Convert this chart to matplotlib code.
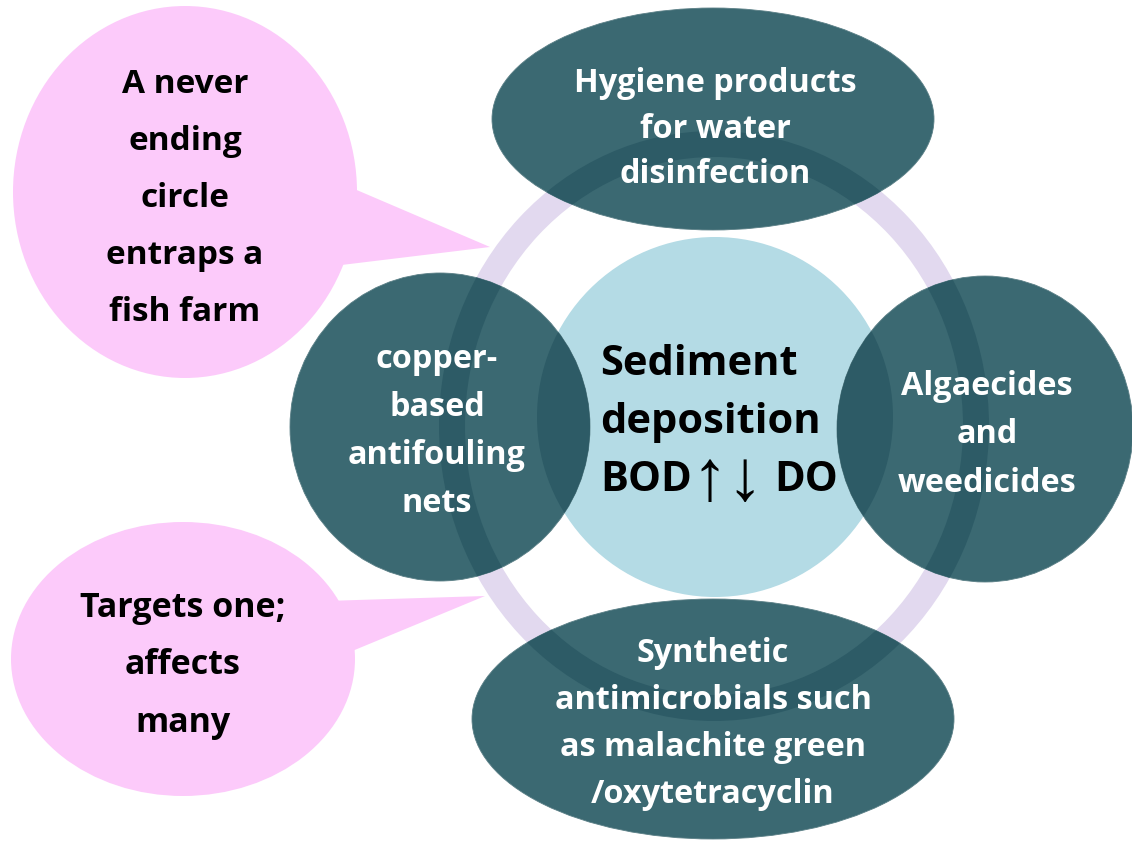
import numpy as np
import matplotlib
matplotlib.use("Agg")
import matplotlib.pyplot as plt
from matplotlib.patches import Ellipse, Polygon

plt.rcParams['font.family'] = ['Open Sans', 'DejaVu Sans']

# text content
callout_top = ["A never", "ending", "circle", "entraps a", "fish farm"]
callout_bottom = ["Targets one;", "affects", "many"]
top_lines = ["Hygiene products", "for water", "disinfection"]
left_lines = ["copper-", "based", "antifouling", "nets"]
right_lines = ["Algaecides", "and", "weedicides"]
bottom_lines = ["Synthetic", "antimicrobials such", "as malachite green", "/oxytetracyclin"]
center_lines = ["Sediment", "deposition"]
center_last = ["BOD", "\u2191\u2193", "DO"]

# colours
TEAL = '#3b6972'
TEAL_DARK = '#2d5b66'
LIGHT_BLUE = '#b4dbe5'
LAVENDER = '#e2d9ef'
PINK = '#fccafa'

W, H = 1132, 845
fig = plt.figure(figsize=(W / 100, H / 100), dpi=100)
ax = fig.add_axes([0, 0, 1, 1])
ax.set_xlim(0, W)
ax.set_ylim(H, 0)
ax.axis('off')

# ring and centre
ring_c, ring_a, ring_b, ring_w = (714, 427), 275, 295, 26
def ring(color, z):
    return Ellipse(ring_c, 2 * (ring_a - ring_w / 2), 2 * (ring_b - ring_w / 2),
                   fill=False, edgecolor=color, lw=ring_w * 0.72, zorder=z)

def centre(color, z):
    return Ellipse((715, 418), 356, 360, facecolor=color, edgecolor='none', zorder=z)

ax.add_patch(ring(LAVENDER, 1))
ax.add_patch(centre(LIGHT_BLUE, 2))

# teal nodes: (center, width, height)
nodes = [((713, 120), 442, 222),
         ((440, 428), 300, 308),
         ((985, 430), 296, 306),
         ((713, 720), 482, 240)]
for c, w, h in nodes:
    node = Ellipse(c, w, h, facecolor=TEAL, edgecolor='#5a7f86', lw=0.6, zorder=3)
    ax.add_patch(node)
    # darker where a node sits over the ring or the centre circle
    for p in (ring(TEAL_DARK, 4), centre(TEAL_DARK, 4)):
        ax.add_patch(p)
        p.set_clip_path(node)

# speech bubbles
ax.add_patch(Ellipse((185, 193), 344, 372, facecolor=PINK, edgecolor='none', zorder=1))
ax.add_patch(Polygon([(345, 186), (325, 268), (490, 248)], closed=True,
                     facecolor=PINK, edgecolor='none', zorder=1))
ax.add_patch(Ellipse((183, 660), 344, 274, facecolor=PINK, edgecolor='none', zorder=1))
ax.add_patch(Polygon([(325, 602), (345, 655), (485, 597)], closed=True,
                     facecolor=PINK, edgecolor='none', zorder=1))

def lines(txt, x, y0, step, size, color, ha='center'):
    for i, t in enumerate(txt):
        ax.text(x, y0 + i * step, t, ha=ha, va='baseline', fontsize=size,
                fontweight='bold', color=color, zorder=6)

lines(callout_top, 185, 93, 57, 24, 'black')
lines(callout_bottom, 183, 617, 57.5, 24.5, 'black')
lines(top_lines, 715, 92, 45.5, 23.3, 'white')
lines(left_lines, 437, 368, 48, 23.3, 'white')
lines(right_lines, 987, 395, 48.5, 23.3, 'white')
lines(bottom_lines, 713, 662, 47, 23.3, 'white')
lines(center_lines, 600, 375, 58, 30, 'black', ha='left')

ax.text(600, 491, center_last[0], ha='left', va='baseline', fontsize=30,
        fontweight='bold', color='black', zorder=6)
ax.text(728, 481, center_last[1], ha='center', va='center', fontsize=52,
        fontweight='bold', family=['Liberation Sans', 'DejaVu Sans'],
        color='black', zorder=6)
ax.text(774, 491, center_last[2], ha='left', va='baseline', fontsize=30,
        fontweight='bold', color='black', zorder=6)

fig.savefig('out.png', dpi=100, facecolor='white')
